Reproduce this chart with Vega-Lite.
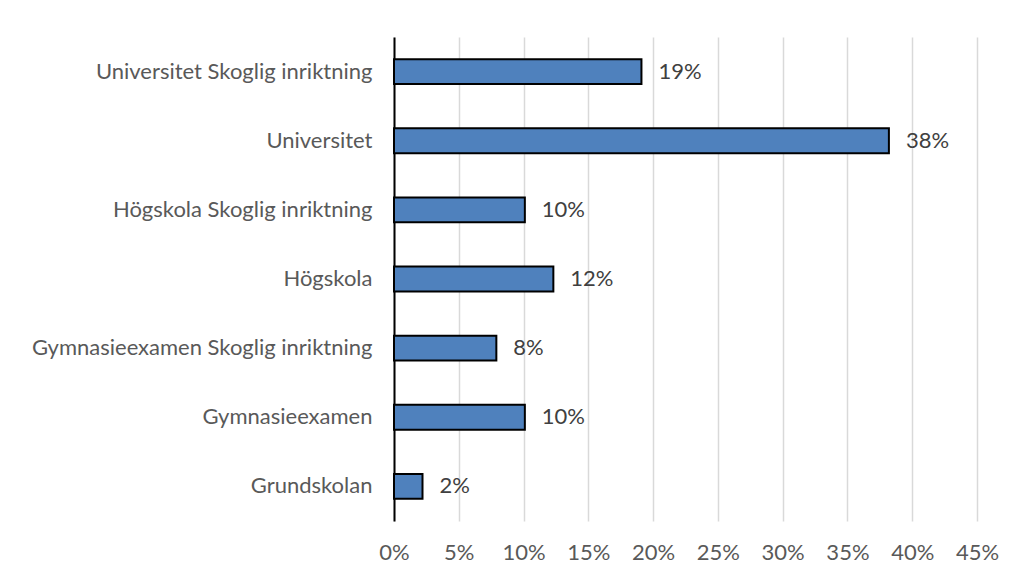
{
  "$schema": "https://vega.github.io/schema/vega-lite/v6.json",
  "width": 583,
  "height": 484,
  "autosize": {"type": "none"},
  "padding": {"left": 394, "top": 37, "right": 39, "bottom": 57},
  "background": "white",
  "config": {"view": {"stroke": null}, "font": "Lato"},
  "data": {
    "values": [
      {"kategori": "Universitet Skoglig inriktning", "andel": 0.191},
      {"kategori": "Universitet", "andel": 0.382},
      {"kategori": "Högskola Skoglig inriktning", "andel": 0.101},
      {"kategori": "Högskola", "andel": 0.123},
      {"kategori": "Gymnasieexamen Skoglig inriktning", "andel": 0.079},
      {"kategori": "Gymnasieexamen", "andel": 0.101},
      {"kategori": "Grundskolan", "andel": 0.022}
    ]
  },
  "encoding": {
    "y": {
      "field": "kategori",
      "type": "nominal",
      "sort": null,
      "scale": {"paddingInner": 0.64, "paddingOuter": 0.32},
      "axis": {
        "title": null,
        "domainColor": "#000000",
        "domainWidth": 2,
        "ticks": false,
        "grid": false,
        "labelPadding": 22,
        "labelFontSize": 22,
        "labelColor": "#595959",
        "labelLimit": 400
      }
    },
    "x": {
      "field": "andel",
      "type": "quantitative",
      "scale": {"domain": [0, 0.45], "nice": false},
      "axis": {
        "title": null,
        "values": [0, 0.05, 0.1, 0.15, 0.2, 0.25, 0.3, 0.35, 0.4, 0.45],
        "format": ".0%",
        "domain": false,
        "ticks": false,
        "grid": true,
        "gridColor": "#d9d9d9",
        "gridWidth": 1.5,
        "labelPadding": 21,
        "labelFontSize": 22,
        "labelColor": "#595959",
        "labelBound": false,
        "labelFlush": false
      }
    }
  },
  "layer": [
    {"mark": {"type": "bar", "fill": "#4F81BD", "stroke": "#000000", "strokeWidth": 2}},
    {
      "mark": {"type": "text", "align": "left", "baseline": "middle", "dx": 17, "fontSize": 22, "color": "#404040"},
      "encoding": {"text": {"field": "andel", "type": "quantitative", "format": ".0%"}}
    }
  ]
}
